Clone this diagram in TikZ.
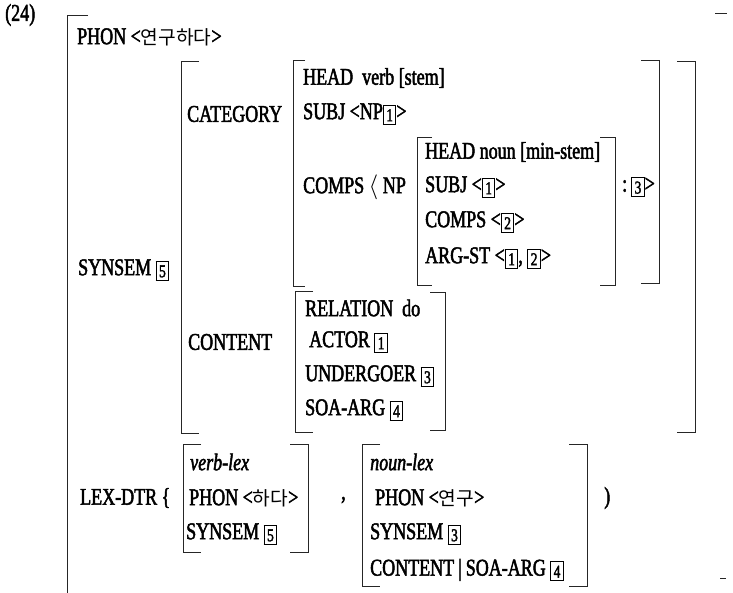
\documentclass[tikz,border=0pt]{standalone}
\usepackage{fontspec}
\setmainfont{Liberation Serif}[FakeStretch=0.75,FakeBold=2]
\newfontfamily\kr{Noto Sans CJK KR}[Scale=0.8]
\newcommand\tg[1]{\raisebox{-2pt}{\setlength\fboxsep{0pt}\setlength\fboxrule{1pt}\fbox{\makebox[11.5pt]{\rule[-2.5pt]{0pt}{18pt}\fontsize{18}{18}\selectfont #1}}}}
\newcommand\LBr[4]{\draw[br] (#1+#4,#2) -- (#1,#2) -- (#1,#3) -- (#1+#4,#3);}
\newcommand\RBr[4]{\draw[br] (#1-#4,#2) -- (#1,#2) -- (#1,#3) -- (#1-#4,#3);}
\begin{document}
\begin{tikzpicture}[x=1pt,y=-1pt,
  t/.style={anchor=west,inner sep=0pt,font=\fontsize{24}{28}\selectfont},
  br/.style={line width=0.8pt,draw=black!85}]
\useasboundingbox (0,0) rectangle (733,593);
\node[t] (n24) at (5,15) {(24)};
\node[t] (phon) at (77,37) {PHON <{\kr 연구하다}>};
\node[t] (synsem) at (78,270) {SYNSEM \tg{5}};
\node[t] (cat) at (187,114) {CATEGORY};
\node[t] (cont) at (188,342) {CONTENT};
\node[t] (head) at (303,78) {HEAD\ \ verb [stem]};
\node[t] (subj) at (303,114) {SUBJ <NP\tg{1}>};
\node[t] (comps) at (303,187) {COMPS $\langle$ NP};
\node[t] (headn) at (425,152) {HEAD noun [min-stem]};
\node[t] (subjn) at (425,187) {SUBJ <\tg{1}>};
\node[t] (compsn) at (425,222) {COMPS <\tg{2}>};
\node[t] (argst) at (425,258) {ARG-ST <\tg{1}, \tg{2}>};
\node[t] (colon) at (622,187) {:\,\tg{3}>};
\node[t] (rel) at (305,308) {RELATION\ \ do};
\node[t] (actor) at (309,342) {ACTOR \tg{1}};
\node[t] (under) at (305,376) {UNDERGOER \tg{3}};
\node[t] (soa) at (305,410) {SOA-ARG \tg{4}};
\node[t] (lex) at (80,498) {LEX-DTR \{};
\node[t] (vlex) at (190,462) {\textit{verb-lex}};
\node[t] (vphon) at (189,498) {PHON <{\kr 하다}>};
\node[t] (vsyn) at (186,534) {SYNSEM \tg{5}};
\node[t] (comma) at (341,500) {,};
\node[t] (nlex) at (370,462) {\textit{noun-lex}};
\node[t] (nphon) at (375,498) {PHON <{\kr 연구}>};
\node[t] (nsyn) at (370,534) {SYNSEM \tg{3}};
\node[t] (ncont) at (370,570) {CONTENT\,|\,SOA-ARG \tg{4}};
\node[t] (close) at (604,498) {)};
% outer
\draw[br] (88,15) -- (67,15) -- (67,593);
\draw[br] (715,13) -- (727,13);
\draw[br] (720,578) -- (726,578);
% synsem
\LBr{181}{61}{433}{18}
\RBr{695}{61}{432}{18}
% category
\LBr{293}{60}{286}{12}
\RBr{659}{60}{283}{18}
% inner NP
\LBr{417}{137}{285}{15}
\RBr{615}{137}{285}{15}
% content
\LBr{295}{291}{432}{18}
\RBr{445}{292}{430}{15}
% verb-lex
\LBr{183}{444}{552}{18}
\RBr{308}{444}{552}{18}
% noun-lex
\LBr{362}{444}{586}{18}
\RBr{587}{444}{586}{18}
\end{tikzpicture}
\end{document}
